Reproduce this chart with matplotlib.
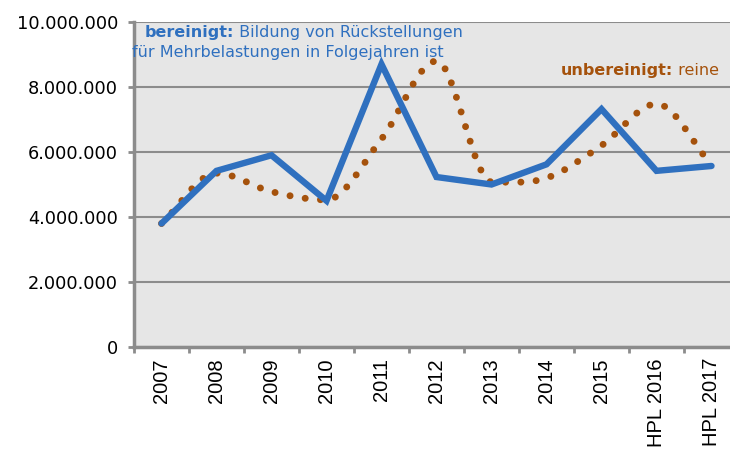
import matplotlib.pyplot as plt
import numpy as np
from matplotlib.path import Path
from matplotlib.patches import PathPatch
from matplotlib.ticker import FuncFormatter, FixedLocator

plt.rcParams['font.family'] = ['DejaVu Sans']

# Data
categories = ['2007', '2008', '2009', '2010', '2011', '2012', '2013', '2014',
              '2015', 'HPL 2016', 'HPL 2017']
bereinigt = [3.80e6, 5.42e6, 5.90e6, 4.50e6, 8.70e6, 5.23e6, 5.00e6, 5.62e6,
             7.32e6, 5.42e6, 5.57e6]
unbereinigt = [3.80e6, 5.35e6, 4.78e6, 4.53e6, 6.40e6, 8.80e6, 5.08e6, 5.20e6,
               6.20e6, 7.48e6, 5.60e6]

blue = '#2F70BF'
brown = '#A5520C'
grid_grey = '#8C8C8C'

fig = plt.figure(figsize=(7.30, 4.54), dpi=100)
ax = fig.add_axes([134 / 730, 107 / 454, 605 / 730, 325 / 454])
ax.set_facecolor('#E6E6E6')

x = np.arange(len(categories))

# smoothed dotted line, drawn as Bezier curves (flat at local extremes)
y = np.array(unbereinigt, dtype=float)
n = len(y)
slopes = np.zeros(n)
for i in range(n):
    if i == 0:
        slopes[i] = y[1] - y[0]
    elif i == n - 1:
        slopes[i] = y[-1] - y[-2]
    else:
        d0, d1 = y[i] - y[i - 1], y[i + 1] - y[i]
        slopes[i] = 0 if d0 * d1 <= 0 else (d0 + d1) / 2
verts = [(x[0], y[0])]
codes = [Path.MOVETO]
for i in range(n - 1):
    verts += [(x[i] + 1 / 3, y[i] + slopes[i] / 3),
              (x[i + 1] - 1 / 3, y[i + 1] - slopes[i + 1] / 3),
              (x[i + 1], y[i + 1])]
    codes += [Path.CURVE4] * 3
patch = PathPatch(Path(verts, codes), facecolor='none', edgecolor=brown,
                  linewidth=5.0, linestyle=(0, (0.01, 2.2)), capstyle='round',
                  zorder=3)
ax.add_patch(patch)

ax.plot(x, bereinigt, color=blue, linewidth=4.6, solid_capstyle='round',
        solid_joinstyle='miter', zorder=4)

ax.set_xlim(-0.5, len(categories) - 0.5)
ax.set_ylim(0, 10e6)
ax.set_yticks(np.arange(0, 10.1e6, 2e6))
ax.yaxis.set_major_formatter(FuncFormatter(lambda v, p: f'{int(v):,}'.replace(',', '.')))
ax.grid(axis='y', color=grid_grey, linewidth=1.5)
ax.set_axisbelow(True)

ax.set_xticks(x)
ax.set_xticklabels(categories, rotation=90, fontsize=14.5, family='Liberation Sans')
ax.xaxis.set_minor_locator(FixedLocator(np.arange(-0.5, len(categories), 1)))
ax.tick_params(axis='x', which='major', length=0, pad=8)
ax.tick_params(axis='x', which='minor', length=4.5, width=2, color=grid_grey)
ax.tick_params(axis='y', length=4.5, width=2, color=grid_grey, labelsize=12.8, pad=7)

for side in ['top', 'right']:
    ax.spines[side].set_visible(False)
for side in ['left', 'bottom']:
    ax.spines[side].set_color(grid_grey)
    ax.spines[side].set_linewidth(2.5)

# annotations
fs = 11.5
t1 = ax.text(0.018, 0.967, 'bereinigt:', transform=ax.transAxes, fontsize=fs,
             fontweight='bold', color=blue, va='center', ha='left')
ax.annotate(' Bildung von Rückstellungen', xy=(1, 0.5), xycoords=t1,
            fontsize=fs, color=blue, va='center', ha='left')
ax.text(-0.003, 0.907, 'für Mehrbelastungen in Folgejahren ist', transform=ax.transAxes,
        fontsize=fs, color=blue, va='center', ha='left')
t2 = ax.text(0.705, 0.851, 'unbereinigt:', transform=ax.transAxes, fontsize=fs,
             fontweight='bold', color=brown, va='center', ha='left')
ax.annotate(' reine', xy=(1, 0.5), xycoords=t2, fontsize=fs, color=brown,
            va='center', ha='left')

fig.savefig('out.png', dpi=100)
